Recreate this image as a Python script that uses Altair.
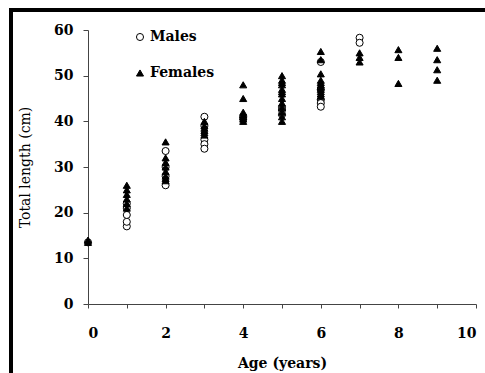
import altair as alt
import pandas as pd

# Total length (cm) by age (years), one list per sex and age class
male_age = [0, 1, 1, 1, 1, 1, 2, 2, 2, 2, 3, 3, 3, 3, 3, 4, 4,
            5, 5, 5, 6, 6, 6, 6, 6, 7, 7]
male_len = [13.5, 17, 18, 19.5, 21, 22, 33.5, 30, 28, 26, 41, 39, 36, 35, 34, 40.5, 41,
            43, 42.5, 41.5, 53, 47, 44.7, 44, 43.2, 58.3, 57.2]

female_age = [0, 0, 1, 1, 1, 1, 1, 1,
              2, 2, 2, 2, 2, 2, 2, 2,
              3, 3, 3, 3, 3, 3,
              4, 4, 4, 4, 4, 4, 4,
              5, 5, 5, 5, 5, 5, 5, 5, 5, 5, 5, 5, 5,
              6, 6, 6, 6, 6, 6, 6, 6, 6, 6, 6,
              7, 7, 7, 8, 8, 8, 9, 9, 9, 9]
female_len = [13.5, 14, 26, 25, 24, 23, 22, 21,
              35.5, 32, 31, 30, 29, 28, 27.5, 27,
              40, 39, 38.5, 38, 37.5, 37,
              48, 45, 42, 41.5, 41, 40.5, 40,
              50, 49, 48.5, 48, 47, 46.5, 46, 45, 44, 43, 42, 41, 40,
              55.3, 53.5, 50.4, 49, 48.5, 48, 47.5, 47, 46.5, 46, 45.5,
              55, 54, 53, 55.7, 54, 48.3, 56, 53.5, 51.3, 49]

groups = ["Males", "Females"]

df = pd.concat([
    pd.DataFrame({"Age": male_age, "Length": male_len, "Sex": "Males"}),
    pd.DataFrame({"Age": female_age, "Length": female_len, "Sex": "Females"}),
], ignore_index=True)

serif = "DejaVu Serif"

legend = alt.Legend(title=None, orient="none", legendX=45, legendY=0,
                    rowPadding=22, symbolSize=50, symbolStrokeWidth=1,
                    labelOffset=3, padding=0,
                    labelFont=serif, labelFontSize=14, labelFontWeight="bold",
                    labelColor="black")

points = alt.Chart(df).mark_point(filled=True, size=50, strokeWidth=1, opacity=1).encode(
    x=alt.X("Age:Q",
            scale=alt.Scale(domain=[0, 10], nice=False),
            axis=alt.Axis(title="Age (years)", values=list(range(11)),
                          labelExpr="datum.value % 2 === 0 ? datum.label : ''",
                          tickSize=4, labelPadding=18, titlePadding=16)),
    y=alt.Y("Length:Q",
            scale=alt.Scale(domain=[0, 60], nice=False),
            axis=alt.Axis(title="Total length (cm)", values=[0, 10, 20, 30, 40, 50, 60],
                          tickSize=5, labelPadding=10, titlePadding=21,
                          titleFontWeight="normal")),
    shape=alt.Shape("Sex:N",
                    scale=alt.Scale(domain=groups, range=["circle", "triangle-up"]),
                    legend=legend),
    fill=alt.Fill("Sex:N",
                  scale=alt.Scale(domain=groups, range=["white", "black"]),
                  legend=legend),
    stroke=alt.Stroke("Sex:N",
                      scale=alt.Scale(domain=groups, range=["black", "black"]),
                      legend=legend),
)

# solid frame bars along the left and top edges of the figure
frame = pd.DataFrame({"edge": ["frame"]})
frame_left = alt.Chart(frame).mark_rect(color="black").encode(
    x=alt.value(-79), x2=alt.value(-75), y=alt.value(-22), y2=alt.value(343))
frame_top = alt.Chart(frame).mark_rect(color="black").encode(
    x=alt.value(-79), x2=alt.value(397), y=alt.value(-22), y2=alt.value(-18))

chart = alt.layer(frame_left, frame_top, points).properties(
    width=388, height=274,
    background="white",
    autosize=alt.AutoSizeParams(type="none"),
    padding={"left": 88, "top": 30, "right": 9, "bottom": 69},
).configure_view(stroke=None).configure_axis(
    grid=False,
    domainColor="#444444",
    domainWidth=1,
    tickColor="#444444",
    labelFont=serif, labelFontSize=14, labelFontWeight="bold", labelColor="black",
    titleFont=serif, titleFontSize=14, titleFontWeight="bold", titleColor="black",
)

chart.save("out.html", embed_options={"renderer": "svg", "actions": False})
